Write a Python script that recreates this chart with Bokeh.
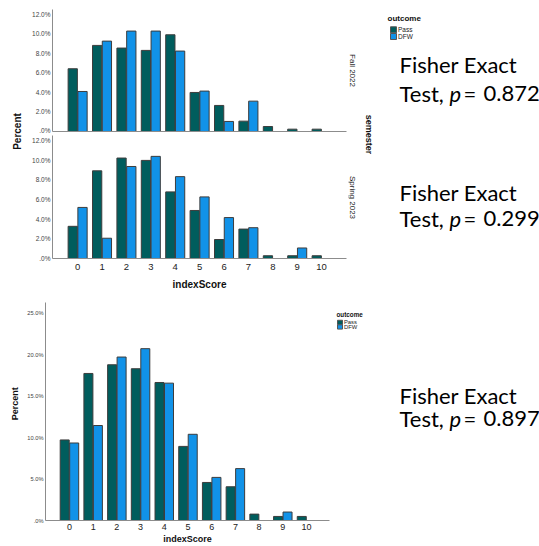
import math
from bokeh.plotting import figure
from bokeh.layouts import row, column
from bokeh.models import FixedTicker, ColumnDataSource
from bokeh.transform import dodge
from bokeh.embed import file_html
from bokeh.resources import INLINE
from bokeh.core.properties import value

# ---------------- data ----------------
index_scores = [0, 1, 2, 3, 4, 5, 6, 7, 8, 9, 10]
outcomes = ["Pass", "DFW"]
semesters = ["Fall 2022", "Spring 2023"]

fall_pass = [6.43, 8.82, 8.55, 8.31, 9.91, 4.00, 2.67, 1.06, 0.51, 0.24, 0.24]
fall_dfw = [4.10, 9.26, 10.29, 10.29, 8.24, 4.14, 1.03, 3.11, 0.0, 0.0, 0.0]
spring_pass = [3.27, 8.91, 10.21, 9.97, 6.77, 4.88, 1.93, 2.99, 0.28, 0.28, 0.28]
spring_dfw = [5.19, 2.06, 9.35, 10.38, 8.32, 6.26, 4.16, 3.13, 0.0, 1.07, 0.0]
total_pass = [9.72, 17.74, 18.79, 18.31, 16.65, 8.94, 4.59, 4.07, 0.77, 0.49, 0.49]
total_dfw = [9.35, 11.46, 19.72, 20.73, 16.57, 10.40, 5.20, 6.26, 0.0, 1.02, 0.0]

top_y_ticks = [0, 2, 4, 6, 8, 10, 12]
top_y_labels = [".0%", "2.0%", "4.0%", "6.0%", "8.0%", "10.0%", "12.0%"]
bottom_y_ticks = [0, 5, 10, 15, 20, 25]
bottom_y_labels = [".0%", "5.0%", "10.0%", "15.0%", "20.0%", "25.0%"]

p_values = ["0.872", "0.299", "0.897"]

# ---------------- style ----------------
COLORS = ["#005d5d", "#1192e8"]
BAR_LINE = "#3d3d3d"
AXIS_COLOR = "#8c8c8c"
CHART_FONT = "Liberation Sans"
NOTE_FONT = "Lato"


def bar_chart(width, height, pass_vals, dfw_vals, y_end, ticks, labels, x_range,
              border_left, border_top, border_bottom, ytick_size, show_x,
              xtick_size="9.5px", xlabel_size="10px", xtick_standoff=5, xlabel_standoff=6):
    p = figure(width=width, height=height, x_range=x_range, y_range=(0, y_end),
               output_backend="svg", toolbar_location=None,
               min_border_left=border_left, min_border_right=2,
               min_border_top=border_top, min_border_bottom=border_bottom)
    p.outline_line_color = None
    p.grid.visible = False
    src = ColumnDataSource(dict(x=index_scores, pass_v=pass_vals, dfw_v=dfw_vals))
    p.vbar(x=dodge("x", -0.2, range=p.x_range), top="pass_v", width=0.38, source=src,
           fill_color=COLORS[0], line_color=BAR_LINE, line_width=1)
    p.vbar(x=dodge("x", 0.2, range=p.x_range), top="dfw_v", width=0.38, source=src,
           fill_color=COLORS[1], line_color=BAR_LINE, line_width=1)

    ya = p.yaxis[0]
    ya.ticker = FixedTicker(ticks=ticks)
    ya.major_label_overrides = dict(zip(ticks, labels))
    ya.major_tick_line_color = None
    ya.minor_tick_line_color = None
    ya.major_tick_out = 0
    ya.major_tick_in = 0
    ya.axis_line_color = AXIS_COLOR
    ya.major_label_text_font = CHART_FONT
    ya.major_label_text_font_size = ytick_size
    ya.major_label_text_color = "#444444"
    ya.major_label_standoff = 2

    xa = p.xaxis[0]
    xa.major_tick_line_color = None
    xa.minor_tick_line_color = None
    xa.major_tick_out = 0
    xa.major_tick_in = 0
    xa.axis_line_color = AXIS_COLOR
    if show_x:
        xa.ticker = FixedTicker(ticks=index_scores)
        xa.major_label_text_font = CHART_FONT
        xa.major_label_text_font_size = xtick_size
        xa.major_label_text_color = "#222222"
        xa.major_label_standoff = xtick_standoff
        xa.axis_label = "indexScore"
        xa.axis_label_text_font = CHART_FONT
        xa.axis_label_text_font_style = "bold"
        xa.axis_label_text_font_size = xlabel_size
        xa.axis_label_text_color = "#111111"
        xa.axis_label_standoff = xlabel_standoff
    else:
        xa.ticker = FixedTicker(ticks=[])
        xa.major_label_standoff = 0
    return p


def text_fig(width, height):
    p = figure(width=width, height=height, x_range=(0, width), y_range=(0, height),
               output_backend="svg", toolbar_location=None,
               x_axis_location=None, y_axis_location=None, min_border=0)
    p.outline_line_color = None
    p.grid.visible = False
    return p


def put(p, left, bottom, x, y, txt, size, bold=False, italic=False, angle=0.0,
        align="left", font=CHART_FONT, color="#111111"):
    style = "bold" if bold else ("italic" if italic else "normal")
    p.text(x=[x - left], y=[bottom - y], text=[txt], angle=angle,
           text_font=value(font), text_font_size=value(size), text_font_style=style,
           text_align=align, text_baseline="middle", text_color=color)


def legend(p, left, bottom, x_title, y_title, x_sw, ys, sw, x_txt, title_size, item_size):
    put(p, left, bottom, x_title, y_title, "outcome", title_size, bold=True)
    for name, col, yy in zip(outcomes, COLORS, ys):
        p.rect(x=[x_sw - left], y=[bottom - yy], width=sw, height=sw,
               fill_color=col, line_color="#555555", line_width=1)
        put(p, left, bottom, x_txt, yy, name, item_size, color="#222222")


def fisher(p, left, bottom, x, y1, y2, pv, size="22px"):
    put(p, left, bottom, x, y1, "Fisher Exact", size, font=NOTE_FONT, color="#000000")
    put(p, left, bottom, x, y2, "Test,", size, font=NOTE_FONT, color="#000000")
    put(p, left, bottom, x + 50, y2, "p", size, italic=True, font=NOTE_FONT, color="#000000")
    put(p, left, bottom, x + 64, y2, "=", size, font=NOTE_FONT, color="#000000")
    put(p, left, bottom, x + 84, y2, pv, size, font=NOTE_FONT, color="#000000")


# ---------------- top block (page y 0..292) ----------------
fall = bar_chart(324, 133, fall_pass, fall_dfw, 12.5, top_y_ticks, top_y_labels,
                 (-1.03, 11.02), 28, 9, 2, "6.5px", False)
spring = bar_chart(324, 159, spring_pass, spring_dfw, 12.5, top_y_ticks, top_y_labels,
                   (-1.03, 11.02), 28, 2, 34, "6.5px", True)

left_top = text_fig(24, 292)
put(left_top, 0, 292, 17, 131, "Percent", "10px", bold=True, angle=math.pi / 2, align="center")

right_top = text_fig(191, 292)
RL, RB = 348, 292
put(right_top, RL, RB, 352, 70, semesters[0], "8px", angle=-math.pi / 2, align="center", color="#222222")
put(right_top, RL, RB, 352, 197, semesters[1], "8px", angle=-math.pi / 2, align="center", color="#222222")
put(right_top, RL, RB, 368, 134, "semester", "9px", bold=True, angle=-math.pi / 2, align="center")
legend(right_top, RL, RB, 387, 18, 393, [29.3, 36.0], 6, 397.5, "8px", "6.5px")
fisher(right_top, RL, RB, 399, 64, 93, p_values[0])
fisher(right_top, RL, RB, 399, 192, 218, p_values[1])

top_block = row(left_top, column(fall, spring), right_top)

# ---------------- bottom block (page y 292..546) ----------------
overall = bar_chart(311, 254, total_pass, total_dfw, 26.3, bottom_y_ticks, bottom_y_labels,
                    (-1.01, 10.97), 25, 10, 26, "5.7px", True,
                    xtick_size="9px", xlabel_size="9px", xtick_standoff=3, xlabel_standoff=1)

left_bot = text_fig(20, 254)
put(left_bot, 0, 546, 14, 410, "Percent", "9px", bold=True, angle=math.pi / 2, align="center")

right_bot = text_fig(208, 254)
BL, BB = 331, 546
legend(right_bot, BL, BB, 336, 306, 339.5, [315.2, 320.5], 5, 343.5, "6.3px", "5.8px")
fisher(right_bot, BL, BB, 399, 400, 427, p_values[2])

bottom_block = row(left_bot, overall, right_bot)

layout = column(top_block, bottom_block)

with open("out.html", "w") as f:
    f.write(file_html(layout, INLINE))
